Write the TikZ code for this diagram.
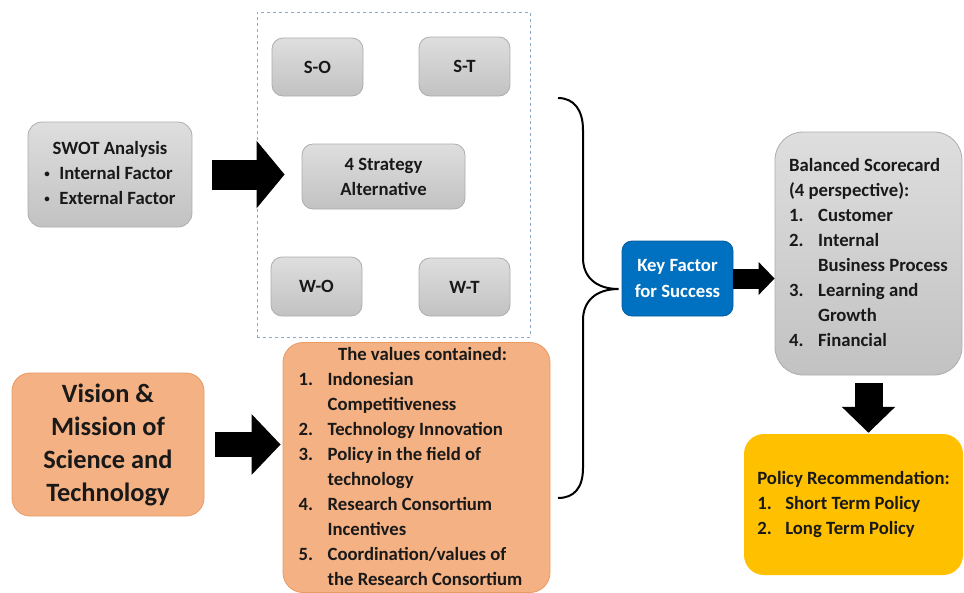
\documentclass[tikz,border=0pt]{standalone}
\usepackage{fontspec}
\setmainfont{Carlito}
\usetikzlibrary{arrows.meta}
\definecolor{boxtop}{HTML}{DEDEDE}
\definecolor{boxbot}{HTML}{C2C2C2}
\definecolor{boxline}{HTML}{ADADAD}
\definecolor{peach}{HTML}{F4B183}
\definecolor{peachline}{HTML}{E89A63}
\definecolor{keyblue}{HTML}{0070C0}
\definecolor{keyline}{HTML}{005B9F}
\definecolor{gold}{HTML}{FFC000}
\definecolor{frameblue}{HTML}{8EA9C1}
\newcommand{\smallbullet}{\makebox[15pt][l]{\raisebox{2.5pt}{\fontsize{11}{11}\selectfont\textbullet}}}

\begin{document}
\begin{tikzpicture}[x=1pt,y=-1pt]
        \tikzstyle{txt}=[font=\fontsize{18.7}{25}\selectfont\bfseries,text=black!90,inner sep=0pt,align=center]
        \tikzstyle{greybox}=[txt,rounded corners=11pt,draw=boxline,line width=0.8pt,top color=boxtop,bottom color=boxbot]
        \tikzstyle{peachbox}=[txt,rounded corners=18pt,draw=peachline,line width=0.8pt,fill=peach]
        \tikzstyle{blockarrow}=[draw=black,line width=#1]
        \useasboundingbox (0,0) rectangle (964,592);
       \begin{scope}
         % strategy group
         \node [draw=frameblue,dashed,line width=0.8pt,minimum width=273pt,minimum height=325pt] (grp) at (393.5,174.5) {};
         \node [greybox,minimum width=91pt,minimum height=58pt] (so) at (317.5,67) {S-O};
         \node [greybox,minimum width=91pt,minimum height=59pt] (st) at (464.5,66.5) {S-T};
         \node [greybox,minimum width=163pt,minimum height=65pt] (strat) at (383.5,176.5) {4 Strategy\\Alternative};
         \node [greybox,minimum width=91pt,minimum height=59pt] (wo) at (316.5,286.5) {W-O};
         \node [greybox,minimum width=91pt,minimum height=58pt] (wt) at (464.5,287) {W-T};
         % inputs
         \node [greybox,rounded corners=14pt,minimum width=164pt,minimum height=105pt] (swot) at (110,174.5)
           {\begin{tabular}{@{}l@{}}\multicolumn{1}{@{}c@{}}{SWOT Analysis}\\
            \smallbullet Internal Factor\\
            \smallbullet External Factor\end{tabular}};
         \node [peachbox,minimum width=192pt,minimum height=143pt,font=\fontsize{26.4}{33}\selectfont\bfseries] (vision) at (108,444.5)
           {Vision \&\\Mission of\\Science and\\Technology};
         \node [peachbox,rounded corners=20pt,minimum width=267pt,minimum height=248pt] (values) at (416.5,467.5)
           {\begin{tabular}{@{}p{29pt}@{}l@{\hspace{12pt}}}\multicolumn{2}{@{}c@{}}{\hspace{12pt}The values contained:}\\
            1. & Indonesian\\ & Competitiveness\\
            2. & Technology Innovation\\
            3. & Policy in the field of\\ & technology\\
            4. & Research Consortium\\ & Incentives\\
            5. & Coordination/values of\\ & the Research Consortium\end{tabular}};
         % outputs
         \node [txt,rounded corners=10pt,draw=keyline,line width=0.8pt,fill=keyblue,text=white,minimum width=111pt,minimum height=75pt] (key) at (677.5,278.5)
           {Key Factor\\for Success};
         \node [greybox,rounded corners=28pt,minimum width=187pt,minimum height=243pt] (bsc) at (868.5,253.5)
           {\begin{tabular}{@{}p{29pt}@{}l@{}}\multicolumn{2}{@{}l@{}}{Balanced Scorecard}\\
            \multicolumn{2}{@{}l@{}}{(4 perspective):}\\
            1. & Customer\\
            2. & Internal\\ & Business Process\\
            3. & Learning and\\ & Growth\\
            4. & Financial\end{tabular}};
         \node [txt,rounded corners=20pt,fill=gold,minimum width=219pt,minimum height=141pt] (policy) at (853.5,504.5)
           {\begin{tabular}{@{}p{28pt}@{}l@{}}\multicolumn{2}{@{}l@{}}{Policy Recommendation:}\\
            1. & Short Term Policy\\
            2. & Long Term Policy\end{tabular}};
         % block arrows
         \draw [blockarrow=30pt,-{Triangle[length=28pt,width=66pt]},shorten <=20pt,shorten >=17pt] (swot.east) -- (swot.east -| strat.west);
         \draw [blockarrow=25pt,-{Triangle[length=29pt,width=59pt]},shorten <=11pt,shorten >=2pt] (vision.east) -- (vision.east -| values.west);
         \draw [blockarrow=20pt,-{Triangle[length=16pt,width=32pt]}] (key.east) -- (key.east -| bsc.west);
         \draw [blockarrow=28pt,-{Triangle[length=26pt,width=52pt]},shorten <=8pt,shorten >=1pt] (bsc.south) -- (bsc.south |- policy.north);
         % brace
         \coordinate (tip) at ([xshift=-3pt]key.west);
         \draw [line width=2pt] (558,98) .. controls (574,98) and (583,110) .. (583,130) -- (583,258)
           .. controls (583,276) and (595,289) .. (tip |- 0,289) .. controls (595,289) and (583,302) .. (583,320)
           -- (583,468) .. controls (583,488) and (574,498) .. (558,498);
        \end{scope}
      \end{tikzpicture}
\end{document}
